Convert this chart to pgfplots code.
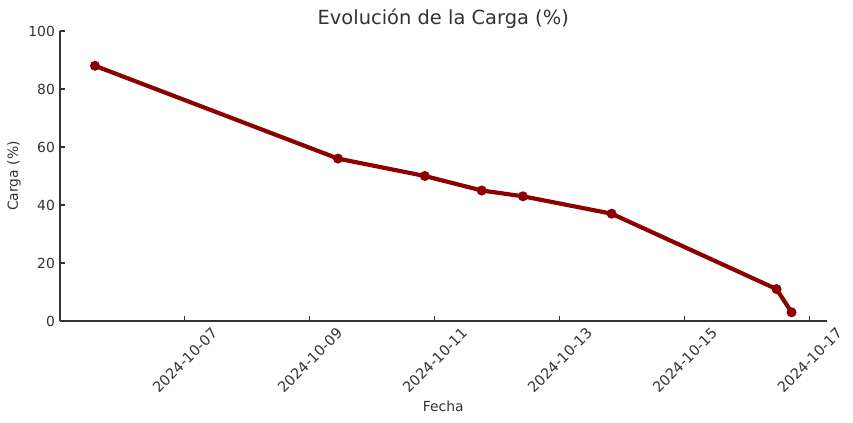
\documentclass[border=0pt]{standalone}
\usepackage{pgfplots}
\pgfplotsset{compat=1.18}
\usepackage{fontspec}
\setmainfont{DejaVu Sans}
\definecolor{txt}{HTML}{333333}
\definecolor{line}{HTML}{8B0000}
\begin{document}
\begin{tikzpicture}[x=0.72pt,y=0.72pt]
\useasboundingbox (-60,-102) rectangle (793,290+31);
\begin{axis}[
  at={(0,0)}, anchor=south west,
  scale only axis,
  width=551.9pt, height=208.8pt,
  xmin=5.0, xmax=17.27, ymin=0, ymax=100,
  axis x line*=bottom, axis y line*=left,
  axis line style={txt, line width=0.8pt, -},
  tick style={txt, line width=0.8pt},
  tick align=inside,
  major tick length=3.5pt,
  xtick={7,9,11,13,15,17},
  xticklabels={\rotatebox{45}{2024-10-07},\rotatebox{45}{2024-10-09},\rotatebox{45}{2024-10-11},\rotatebox{45}{2024-10-13},\rotatebox{45}{2024-10-15},\rotatebox{45}{2024-10-17}},
  xticklabel style={anchor=north, font=\fontsize{10.4}{12}\selectfont, text=txt, inner sep=0pt, yshift=-4pt},
  ytick={0,20,40,60,80,100},
  yticklabel style={font=\fontsize{10}{12}\selectfont, text=txt, inner sep=0pt, xshift=-3.5pt, anchor=east},
  /pgf/number format/assume math mode=true,
  xlabel={Fecha}, ylabel={Carga (\%)},
  label style={font=\fontsize{10}{12}\selectfont, text=txt},
  xlabel style={at={(axis description cs:0.5,0)}, anchor=center, yshift=-61.2pt},
  ylabel style={at={(axis description cs:0,0.5)}, anchor=center, yshift=33pt},
  title={Evolución de la Carga (\%)},
  title style={font=\fontsize{14}{17}\selectfont, text=txt, anchor=south, yshift=-7.8pt},
  clip=false,
]
\addplot[line, line width=3pt, mark=*, mark size=2pt, mark options={solid, fill=line}] coordinates {
  (5.56,88) (9.45,56) (10.84,50) (11.75,45) (12.41,43) (13.83,37) (16.47,11) (16.71,3)
};
\end{axis}
\end{tikzpicture}
\end{document}
